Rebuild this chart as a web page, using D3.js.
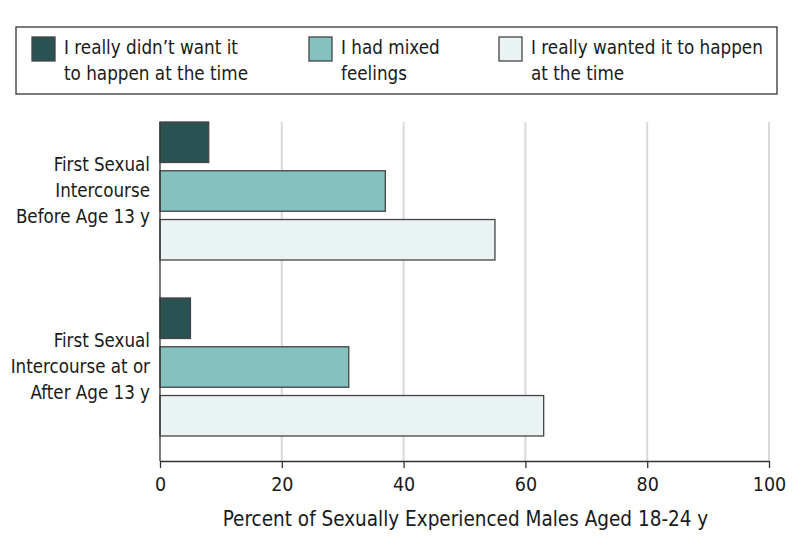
<!DOCTYPE html>
<html><head><meta charset="utf-8">
<script src="https://cdn.jsdelivr.net/npm/d3@7"></script>
<style>
body{margin:0;background:#fff;}
text{font-family:"DejaVu Sans Condensed","DejaVu Sans",sans-serif;fill:#1a1a1a;}
</style></head>
<body>
<svg id="chart" width="794" height="546"></svg>
<script>
const categories = [["First Sexual","Intercourse","Before Age 13 y"],["First Sexual","Intercourse at or","After Age 13 y"]];
const seriesNames = [["I really didn\u2019t want it","to happen at the time"],["I had mixed","feelings"],["I really wanted it to happen","at the time"]];
const didntWant = [8, 5];
const mixed = [37, 31];
const wanted = [55, 63];
const xTicks = [0,20,40,60,80,100];
const axisTitle = "Percent of Sexually Experienced Males Aged 18-24 y";
const colors = ["#2b5252","#85c1bf","#e9f3f4"];

const svg = d3.select("#chart");
const x = d3.scaleLinear().domain([0,100]).range([160,769]);
const plotTop=122, plotBottom=461;
const yGroup = d3.scaleBand().domain([0,1]).range([122,474]).paddingInner(0.1).paddingOuter(0);
const ySeries = d3.scaleBand().domain([0,1,2]).range([0,138]).paddingInner(0.17);

// gridlines
svg.append("g").selectAll("line").data(xTicks.slice(1)).join("line")
  .attr("x1",d=>x(d)).attr("x2",d=>x(d)).attr("y1",plotTop).attr("y2",plotBottom)
  .attr("stroke","#d9d9d9").attr("stroke-width",2);

const series = [didntWant, mixed, wanted];
const gy = i => 122 + i*176;
series.forEach((vals,s)=>{
  svg.append("g").selectAll("rect").data(vals).join("rect")
    .attr("x",x(0)).attr("y",(d,i)=>gy(i)+ySeries(s))
    .attr("width",d=>x(d)-x(0)).attr("height",ySeries.bandwidth())
    .attr("fill",colors[s]).attr("stroke","#444").attr("stroke-width",1.3);
});

// y axis line
svg.append("line").attr("x1",x(0)).attr("x2",x(0)).attr("y1",plotTop).attr("y2",plotBottom).attr("stroke","#333").attr("stroke-width",1.3);

// x axis
const xAxis = d3.axisBottom(x).tickValues(xTicks).tickSize(7).tickPadding(9).tickSizeOuter(0);
const ax = svg.append("g").attr("transform",`translate(0,${plotBottom})`).call(xAxis);
ax.select(".domain").attr("stroke","#333").attr("stroke-width",1.3);
ax.selectAll(".tick line").attr("stroke","#333").attr("stroke-width",1.3);
ax.selectAll(".tick text").attr("font-size",19.5).attr("font-family",null).style("fill","#1a1a1a");

svg.append("text").attr("x",(x(0)+x(100))/2 + 1).attr("y",526).attr("text-anchor","middle").attr("font-size",20.5).text(axisTitle);

// category labels
categories.forEach((lines,i)=>{
  const cy = gy(i)+69;
  const t = svg.append("text").attr("text-anchor","end").attr("font-size",18.6);
  lines.forEach((l,j)=>{
    t.append("tspan").attr("x",150).attr("y",cy + (j-1)*26 + 6).text(l);
  });
});

// legend
svg.append("rect").attr("x",16).attr("y",27).attr("width",761).attr("height",67).attr("fill","#fff").attr("stroke","#333").attr("stroke-width",1.3);
const legX = [32,309,499];
seriesNames.forEach((lines,i)=>{
  svg.append("rect").attr("x",legX[i]).attr("y",37).attr("width",23).attr("height",24)
    .attr("fill",colors[i]).attr("stroke","#444").attr("stroke-width",1.3);
  const t = svg.append("text").attr("font-size",18.7);
  lines.forEach((l,j)=>{
    t.append("tspan").attr("x",legX[i]+32).attr("y",54+j*26).text(l);
  });
});
</script>
</body></html>
